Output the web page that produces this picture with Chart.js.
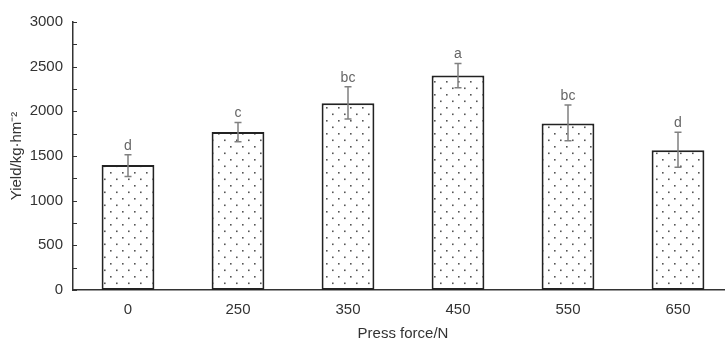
<!DOCTYPE html>
<html>
<head>
<meta charset="utf-8">
<script src="https://cdn.jsdelivr.net/npm/chart.js@4"></script>
<style>
  html, body { margin: 0; padding: 0; background: #fff; overflow: hidden; }
  #wrap { width: 745px; height: 343px; }
</style>
</head>
<body>
<div id="wrap"><canvas id="yieldChart"></canvas></div>
<script>
// press force groups and measured yield
const forces = ['0', '250', '350', '450', '550', '650'];
const yields = [1400, 1770, 2090, 2400, 1865, 1565];
const errUp = [115, 105, 185, 135, 205, 200];
const errDown = [130, 110, 175, 135, 195, 190];
const letters = ['d', 'c', 'bc', 'a', 'bc', 'd'];
const yTicks = [0, 500, 1000, 1500, 2000, 2500, 3000];

// dotted fill like the printed figure
function dotPattern() {
  const c = document.createElement('canvas');
  c.width = 12; c.height = 13;
  const g = c.getContext('2d');
  g.fillStyle = '#fff';
  g.fillRect(0, 0, 12, 13);
  g.fillStyle = '#555';
  g.fillRect(2, 3, 1.6, 1.6);
  g.fillRect(8, 9.5, 1.6, 1.6);
  return g.createPattern(c, 'repeat');
}

// inward ticks on y axis (major + minor every 250)
const yTickMarks = {
  id: 'yTickMarks',
  afterDraw(chart) {
    const y = chart.scales.y, ctx = chart.ctx;
    const x0 = chart.chartArea.left;
    ctx.save();
    ctx.strokeStyle = '#333';
    ctx.lineWidth = 1;
    for (let v = 0; v <= 3000; v += 250) {
      const py = Math.round(y.getPixelForValue(v)) + 0.5;
      ctx.beginPath();
      ctx.moveTo(x0, py);
      ctx.lineTo(x0 + 4, py);
      ctx.stroke();
    }
    ctx.restore();
  }
};

// error bars and significance letters
const errorBars = {
  id: 'errorBars',
  afterDatasetsDraw(chart) {
    const ctx = chart.ctx, y = chart.scales.y;
    const meta = chart.getDatasetMeta(0);
    ctx.save();
    ctx.strokeStyle = '#808080';
    ctx.lineWidth = 1.5;
    ctx.fillStyle = '#666';
    ctx.font = '14px "Liberation Sans", Arial, sans-serif';
    ctx.textAlign = 'center';
    ctx.textBaseline = 'bottom';
    meta.data.forEach((bar, i) => {
      const x = bar.x;
      const top = y.getPixelForValue(yields[i] + errUp[i]);
      const bot = y.getPixelForValue(yields[i] - errDown[i]);
      ctx.beginPath();
      ctx.moveTo(x, top); ctx.lineTo(x, bot);
      ctx.moveTo(x - 3.5, top); ctx.lineTo(x + 3.5, top);
      ctx.moveTo(x - 3.5, bot); ctx.lineTo(x + 3.5, bot);
      ctx.stroke();
      ctx.fillText(letters[i], x, top - 2);
    });
    ctx.restore();
  }
};

const font = { family: '"Liberation Sans", Arial, sans-serif', size: 15 };

new Chart(document.getElementById('yieldChart'), {
  type: 'bar',
  data: {
    labels: forces,
    datasets: [{
      data: yields,
      backgroundColor: dotPattern(),
      borderColor: '#222',
      borderWidth: 2,
      borderSkipped: false,
      categoryPercentage: 0.96,
      barPercentage: 0.5
    }]
  },
  options: {
    responsive: true,
    maintainAspectRatio: false,
    animation: false,
    layout: { padding: { top: 22, right: 12, left: 0, bottom: 0 } },
    plugins: { legend: { display: false }, tooltip: { enabled: false } },
    scales: {
      x: {
        grid: { display: false, drawTicks: false },
        border: { color: '#333', width: 1.5 },
        ticks: { color: '#333', font: font, padding: 11 },
        title: { display: true, text: 'Press force/N', color: '#333', font: font, padding: { top: 0, bottom: 0 } },
        afterFit: s => { s.height = 53; }
      },
      y: {
        min: 0,
        max: 3000,
        afterBuildTicks: s => { s.ticks = yTicks.map(v => ({ value: v })); },
        grid: { display: false, drawTicks: false },
        border: { color: '#333', width: 1.5 },
        ticks: { color: '#333', font: font, padding: 10, callback: v => String(v) },
        title: { display: true, text: 'Yield/kg·hm⁻²', color: '#333', font: font, padding: { top: 8, bottom: 0 } },
        afterFit: s => { s.width = 73; }
      }
    }
  },
  plugins: [yTickMarks, errorBars]
});
</script>
</body>
</html>
